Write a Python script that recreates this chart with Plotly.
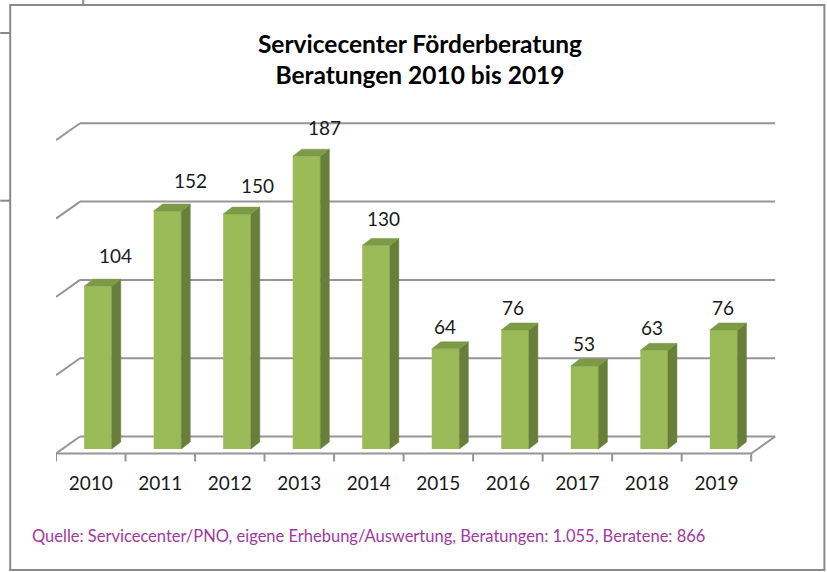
import plotly.graph_objects as go

# ---------------- data ----------------
years = ["2010", "2011", "2012", "2013", "2014", "2015", "2016", "2017", "2018", "2019"]
beratungen = [104, 152, 150, 187, 130, 64, 76, 53, 63, 76]
grid_values = [0, 50, 100, 150, 200]

# label placement tweaks (pixels, relative to top-front centre of each bar)
label_xshift = [18, 23, 20, 18, 7, -1, -2, -1, -2, -1]
label_yshift = [31, 30, 29, 29, 27, 22, 22, 23, 23, 22]

# ---------------- geometry ----------------
W, H = 827, 572
L, R = 55.8, 778.6
T, B = 110, 470
n = len(years)
XMIN, XMAX = -0.5, 9.9
PXU = (R - L) / (XMAX - XMIN)
Y0PX = 449.0
PYU = 1.566
YMIN = (Y0PX - B) / PYU
YMAX = (Y0PX - T) / PYU


def dx(px):
    return px / PXU


def dy(px):
    return px / PYU


def paper_x(px):
    return (px - L) / (R - L)


def paper_y(py):
    return (B - py) / (B - T)


BAR_W = dx(27.6)
BAR_OFF = -0.095
DXB, DYB = dx(9), dy(7)
DXW, DYW = dx(24), dy(17)
WALL_BACK = dy(Y0PX - 436.5)
WALL_FRONT = WALL_BACK - DYW

GRID = "#959595"
FRONT = "#9BBB59"
SIDE = "#687F3A"
TOP = "#7D9A47"
TEXT = "#1a1a1a"
FONT = "Lato"

fig = go.Figure()

# front faces
fig.add_trace(go.Bar(
    x=list(range(n)), y=beratungen, width=BAR_W, offset=BAR_OFF,
    marker=dict(color=FRONT, line=dict(width=0)), hoverinfo="skip",
    showlegend=False,
))

# side and top faces
sx, sy = [], []
tx, ty = [], []
for i, v in enumerate(beratungen):
    xl = i + BAR_OFF
    xr = xl + BAR_W
    sx += [xr, xr + DXB, xr + DXB, xr, xr, None]
    sy += [0, DYB, v + DYB, v, 0, None]
    tx += [xl, xr, xr + DXB, xl + DXB, xl, None]
    ty += [v, v, v + DYB, v + DYB, v, None]

fig.add_trace(go.Scatter(x=sx, y=sy, mode="lines", fill="toself", fillcolor=SIDE,
                         line=dict(color=SIDE, width=0.5), hoverinfo="skip", showlegend=False))
fig.add_trace(go.Scatter(x=tx, y=ty, mode="lines", fill="toself", fillcolor=TOP,
                         line=dict(color=TOP, width=0.5), hoverinfo="skip", showlegend=False))

shapes = []
line_style = dict(color=GRID, width=2)
# back-wall gridlines with left diagonals
for g in grid_values:
    shapes.append(dict(type="line", xref="x", yref="y", layer="below",
                       x0=XMIN, y0=g + WALL_FRONT, x1=XMIN + DXW, y1=g + WALL_BACK, line=line_style))
    shapes.append(dict(type="line", xref="x", yref="y", layer="below",
                       x0=XMIN + DXW, y0=g + WALL_BACK, x1=n - 0.5 + DXW, y1=g + WALL_BACK, line=line_style))
# floor front edge and right edge
shapes.append(dict(type="line", xref="x", yref="y", layer="below",
                   x0=XMIN, y0=WALL_FRONT, x1=n - 0.5, y1=WALL_FRONT, line=line_style))
shapes.append(dict(type="line", xref="x", yref="y", layer="below",
                   x0=n - 0.5, y0=WALL_FRONT, x1=n - 0.5 + DXW, y1=WALL_BACK, line=line_style))
# category tick marks
for k in range(n + 1):
    shapes.append(dict(type="line", xref="x", yref="y", layer="below",
                       x0=k - 0.5, y0=WALL_FRONT, x1=k - 0.5, y1=WALL_FRONT - dy(8), line=line_style))

# outer frame and screenshot stubs
frame = dict(color="#8a8a8a", width=2)
shapes.append(dict(type="rect", xref="paper", yref="paper",
                   x0=paper_x(10), y0=paper_y(570), x1=paper_x(824), y1=paper_y(5), line=frame))
shapes.append(dict(type="line", xref="paper", yref="paper",
                   x0=paper_x(83), y0=paper_y(0), x1=paper_x(83), y1=paper_y(5), line=frame))
shapes.append(dict(type="line", xref="paper", yref="paper",
                   x0=paper_x(0), y0=paper_y(33), x1=paper_x(10), y1=paper_y(33), line=frame))
shapes.append(dict(type="line", xref="paper", yref="paper",
                   x0=paper_x(0), y0=paper_y(200.7), x1=paper_x(10), y1=paper_y(200.7), line=frame))

annotations = []
for i, v in enumerate(beratungen):
    annotations.append(dict(
        x=i + BAR_OFF + BAR_W / 2, y=v, xref="x", yref="y", text=str(v),
        showarrow=False, xanchor="center", yanchor="middle",
        xshift=label_xshift[i], yshift=label_yshift[i],
        font=dict(family=FONT, size=19, color=TEXT),
    ))

annotations.append(dict(
    x=paper_x(30), y=paper_y(536), xref="paper", yref="paper",
    text="Quelle: Servicecenter/PNO, eigene Erhebung/Auswertung, Beratungen: 1.055, Beratene: 866",
    showarrow=False, xanchor="left", yanchor="middle",
    font=dict(family=FONT, size=16.5, color="#A0399F"),
))

fig.update_layout(
    width=W, height=H,
    margin=dict(l=L, r=W - R, t=T, b=H - B, pad=0, autoexpand=False),
    paper_bgcolor="white", plot_bgcolor="white",
    title=dict(
        text="<b>Servicecenter Förderberatung<br>Beratungen 2010 bis 2019</b>",
        x=420 / W, xref="container", xanchor="center",
        y=1 - 52.5 / H, yref="container", yanchor="middle",
        font=dict(family=FONT, size=24.5, color="#000000"),
    ),
    xaxis=dict(range=[XMIN, XMAX], tickmode="array", tickvals=list(range(n)), ticktext=years,
               showgrid=False, zeroline=False, showline=False, ticks="",
               tickfont=dict(family=FONT, size=19, color=TEXT), fixedrange=True),
    yaxis=dict(range=[YMIN, YMAX], showgrid=False, zeroline=False, showline=False,
               showticklabels=False, ticks="", fixedrange=True),
    shapes=shapes,
    annotations=annotations,
    showlegend=False,
)

fig.write_html("out.html", config={"displayModeBar": False},
               post_script="document.body.style.margin='0px';")
